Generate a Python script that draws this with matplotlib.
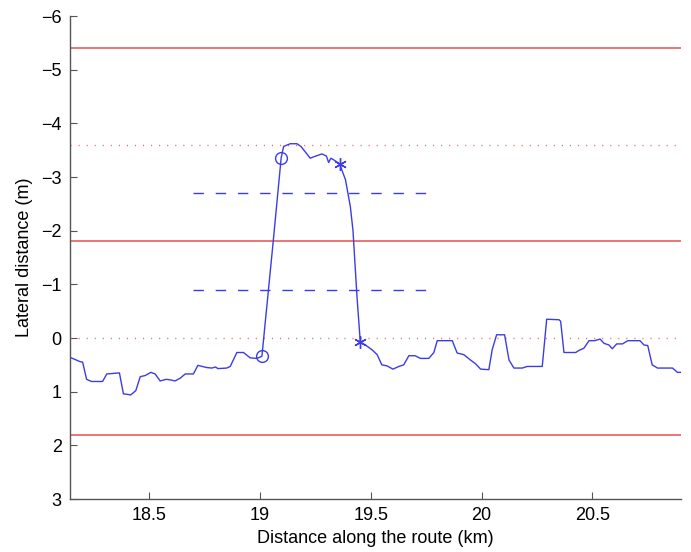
import numpy as np
import matplotlib.pyplot as plt

plt.rcParams['font.family'] = ['Liberation Sans', 'DejaVu Sans']

# lateral position trace (km, m)
dist = [18.143, 18.188, 18.20, 18.218, 18.24, 18.29, 18.309, 18.366, 18.384, 18.417,
        18.44, 18.46, 18.482, 18.508, 18.527, 18.55, 18.577, 18.595, 18.617, 18.64,
        18.663, 18.70, 18.72, 18.76, 18.783, 18.80, 18.81, 18.85, 18.866, 18.896,
        18.926, 18.956, 18.987, 19.009, 19.06, 19.096, 19.107, 19.137, 19.167, 19.185,
        19.21, 19.227, 19.245, 19.28, 19.30, 19.31, 19.32, 19.333, 19.36, 19.386,
        19.408, 19.42, 19.438, 19.453, 19.476, 19.506, 19.529, 19.55, 19.574, 19.60,
        19.627, 19.649, 19.672, 19.70, 19.724, 19.762, 19.785, 19.80, 19.868, 19.89,
        19.92, 19.95, 19.973, 19.996, 20.033, 20.048, 20.068, 20.104, 20.124, 20.146,
        20.184, 20.206, 20.274, 20.294, 20.35, 20.357, 20.372, 20.425, 20.44, 20.462,
        20.485, 20.51, 20.535, 20.553, 20.575, 20.59, 20.61, 20.636, 20.66, 20.715,
        20.733, 20.75, 20.77, 20.794, 20.862, 20.884, 20.90]
lat = [0.36, 0.44, 0.45, 0.77, 0.81, 0.81, 0.67, 0.65, 1.04, 1.06,
       0.98, 0.72, 0.70, 0.64, 0.67, 0.80, 0.77, 0.78, 0.80, 0.75,
       0.67, 0.67, 0.51, 0.55, 0.56, 0.54, 0.57, 0.56, 0.53, 0.27,
       0.27, 0.37, 0.38, 0.34, -1.8, -3.36, -3.57, -3.62, -3.62, -3.57,
       -3.44, -3.35, -3.38, -3.43, -3.39, -3.27, -3.35, -3.32, -3.24, -2.95,
       -2.45, -2.0, -0.77, 0.08, 0.13, 0.22, 0.31, 0.50, 0.52, 0.58,
       0.53, 0.50, 0.33, 0.33, 0.38, 0.38, 0.27, 0.05, 0.05, 0.28,
       0.31, 0.41, 0.48, 0.58, 0.59, 0.22, -0.06, -0.06, 0.41, 0.56,
       0.56, 0.53, 0.53, -0.35, -0.34, -0.31, 0.27, 0.27, 0.23, 0.19,
       0.05, 0.05, 0.02, 0.10, 0.13, 0.20, 0.11, 0.11, 0.05, 0.05,
       0.13, 0.14, 0.50, 0.56, 0.56, 0.64, 0.64]

# lane change start/end markers
circ_x = [19.009, 19.096]
circ_y = [0.34, -3.36]
star_x = [19.36, 19.453]
star_y = [-3.24, 0.08]

# lane boundaries and centres
lane_edges = [-5.4, -1.8, 1.8]
lane_dotted = [-3.6, 0.0]
dash_levels = [-2.7, -0.9]
dash_span = [18.70, 19.77]

xlim = (18.143, 20.90)

fig = plt.figure(figsize=(6.91, 5.52), dpi=100)
ax = fig.add_axes([0.1013, 0.096, 0.8842, 0.875])

red = '#e86a6a'
blue = '#3c3ce6'

for y in lane_edges:
    ax.plot(xlim, [y, y], color=red, lw=1.3)
for y in lane_dotted:
    ax.plot(xlim, [y, y], color=red, lw=1.0, linestyle=(0, (0.8, 5)))
for y in dash_levels:
    ax.plot(dash_span, [y, y], color=blue, lw=1.0, linestyle=(0, (7.5, 8.5)))

ax.plot(dist, lat, color=blue, lw=1.0)
ax.plot(circ_x, circ_y, 'o', mfc='none', mec=blue, ms=8.5, mew=1.0)
# matlab style asterisk
ax.plot(star_x, star_y, marker=(6, 2, 0), linestyle='none', color=blue, ms=9, mew=1.0)

ax.set_xlim(*xlim)
ax.set_ylim(3, -6)
ax.set_xticks([18.5, 19, 19.5, 20, 20.5])
ax.set_xticklabels(['18.5', '19', '19.5', '20', '20.5'])
ax.set_yticks(np.arange(-6, 4, 1))

for s in ['top', 'right']:
    ax.spines[s].set_visible(False)
for s in ['left', 'bottom']:
    ax.spines[s].set_color('#555555')
    ax.spines[s].set_linewidth(1.0)
ax.tick_params(direction='in', length=5, width=0.8, color='#555555',
               labelsize=13, pad=6)

ax.set_xlabel('Distance along the route (km)', fontsize=13, labelpad=4)
ax.set_ylabel('Lateral distance (m)', fontsize=13, labelpad=6)

fig.savefig('out.png', dpi=100)
